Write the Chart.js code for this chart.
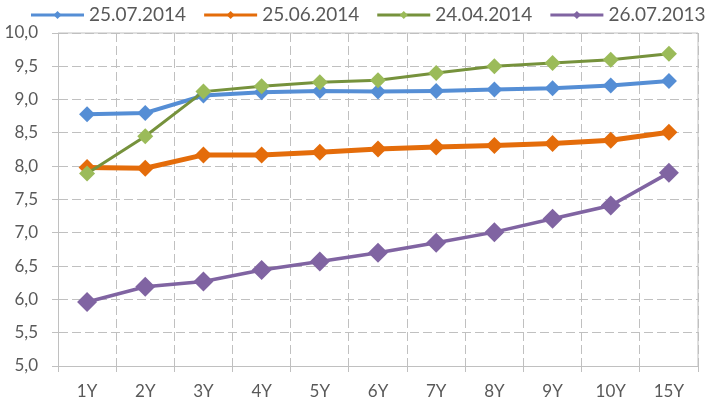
<!DOCTYPE html>
<html>
<head>
<meta charset="utf-8">
<script src="https://cdn.jsdelivr.net/npm/chart.js@4.4.1/dist/chart.umd.min.js"></script>
<style>
  body { margin: 0; background: #fff; }
  canvas { display: block; }
</style>
</head>
<body>
<canvas id="curve" width="708" height="403"></canvas>
<script>
// Maturities on the x axis
const categories = ["1Y", "2Y", "3Y", "4Y", "5Y", "6Y", "7Y", "8Y", "9Y", "10Y", "15Y"];

// Curve dates (legend)
const seriesNames = ["25.07.2014", "25.06.2014", "24.04.2014", "26.07.2013"];

// Yields
const jul2014 = [8.78, 8.80, 9.06, 9.11, 9.13, 9.12, 9.13, 9.15, 9.17, 9.21, 9.28];
const jun2014 = [7.98, 7.97, 8.17, 8.17, 8.21, 8.26, 8.29, 8.31, 8.34, 8.39, 8.51];
const apr2014 = [7.89, 8.45, 9.12, 9.20, 9.26, 9.29, 9.40, 9.50, 9.55, 9.60, 9.69];
const jul2013 = [5.96, 6.19, 6.27, 6.44, 6.57, 6.70, 6.85, 7.01, 7.21, 7.41, 7.90];

// Y axis ticks
const yTickValues = [5.0, 5.5, 6.0, 6.5, 7.0, 7.5, 8.0, 8.5, 9.0, 9.5, 10.0];
const yTickLabels = ["5,0", "5,5", "6,0", "6,5", "7,0", "7,5", "8,0", "8,5", "9,0", "9,5", "10,0"];

const gridGray = "#c0c0c0";
const textGray = "#595959";

Chart.defaults.font.family = "Lato, 'Open Sans', sans-serif";
Chart.defaults.color = textGray;

// Build one line series with diamond markers
function makeSeries(label, data, lineColor, markerColor, width, radius, order) {
  return {
    label: label,
    data: data,
    borderColor: lineColor,
    backgroundColor: markerColor,
    pointBackgroundColor: markerColor,
    pointBorderWidth: 0,
    borderWidth: width,
    pointStyle: "rectRot",
    pointRadius: radius,
    pointHoverRadius: radius,
    tension: 0,
    order: order,
  };
}

/* ----------------------------
    Legend drawn as line + small diamond, like the Excel one
---------------------------- */
const lineLegend = {
  id: "lineLegend",
  afterDraw(chart) {
    const { ctx } = chart;
    let x = 31;
    const y = 15;
    ctx.save();
    ctx.font = "19px " + Chart.defaults.font.family;
    ctx.textBaseline = "middle";
    chart.data.datasets.forEach((ds) => {
      // line sample
      ctx.strokeStyle = ds.borderColor;
      ctx.lineWidth = 3;
      ctx.beginPath();
      ctx.moveTo(x, y);
      ctx.lineTo(x + 53, y);
      ctx.stroke();
      // marker
      const cx = x + 26.5;
      ctx.fillStyle = ds.pointBackgroundColor;
      ctx.beginPath();
      ctx.moveTo(cx - 4, y);
      ctx.lineTo(cx, y - 4);
      ctx.lineTo(cx + 4, y);
      ctx.lineTo(cx, y + 4);
      ctx.closePath();
      ctx.fill();
      // text
      ctx.fillStyle = textGray;
      ctx.fillText(ds.label, x + 58, y);
      x += 58 + ctx.measureText(ds.label).width + 18;
    });
    ctx.restore();
  },
};

// Solid border on the top and right of the plot area
const plotFrame = {
  id: "plotFrame",
  beforeDatasetsDraw(chart) {
    const { ctx, chartArea: a } = chart;
    ctx.save();
    ctx.strokeStyle = gridGray;
    ctx.lineWidth = 1;
    ctx.beginPath();
    ctx.moveTo(a.left, a.top);
    ctx.lineTo(a.right, a.top);
    ctx.lineTo(a.right, a.bottom);
    ctx.stroke();
    ctx.restore();
  },
};

const data = {
  labels: categories,
  datasets: [
    makeSeries(seriesNames[0], jul2014, "#558ed5", "#558ed5", 4, 8, 4),
    makeSeries(seriesNames[1], jun2014, "#e46c0a", "#e46c0a", 5, 8.5, 3),
    makeSeries(seriesNames[2], apr2014, "#76923c", "#9bbb59", 3, 8, 2),
    makeSeries(seriesNames[3], jul2013, "#8064a2", "#8064a2", 3.5, 10, 1),
  ],
};

const config = {
  type: "line",
  data,
  options: {
    responsive: false,
    animation: false,
    layout: { padding: { top: 33, right: 4, left: 0, bottom: 0 } },
    plugins: {
      legend: { display: false },
      tooltip: { enabled: false },
    },
    scales: {
      x: {
        offset: true,
        grid: {
          offset: true,
          color: gridGray,
          lineWidth: 1,
          tickLength: 6,
          tickBorderDash: [],
        },
        border: { display: true, color: gridGray, width: 1, dash: [9, 4] },
        ticks: { font: { size: 17 }, padding: 9, color: textGray, maxRotation: 0 },
        afterFit(scale) {
          scale.height = 37;
        },
      },
      y: {
        min: 5,
        max: 10,
        grid: {
          color: gridGray,
          lineWidth: 1,
          tickLength: 6,
          tickBorderDash: [],
        },
        border: { display: true, color: gridGray, width: 1, dash: [9, 4] },
        ticks: {
          font: { size: 17 },
          padding: 14,
          color: textGray,
          callback: (value, i) => yTickLabels[i],
        },
        afterBuildTicks(scale) {
          scale.ticks = yTickValues.map((v) => ({ value: v }));
        },
        afterFit(scale) {
          scale.width = 58;
        },
      },
    },
  },
  plugins: [plotFrame, lineLegend],
};

const ctx = document.getElementById("curve").getContext("2d");
const curveChart = new Chart(ctx, config);
</script>
</body>
</html>
